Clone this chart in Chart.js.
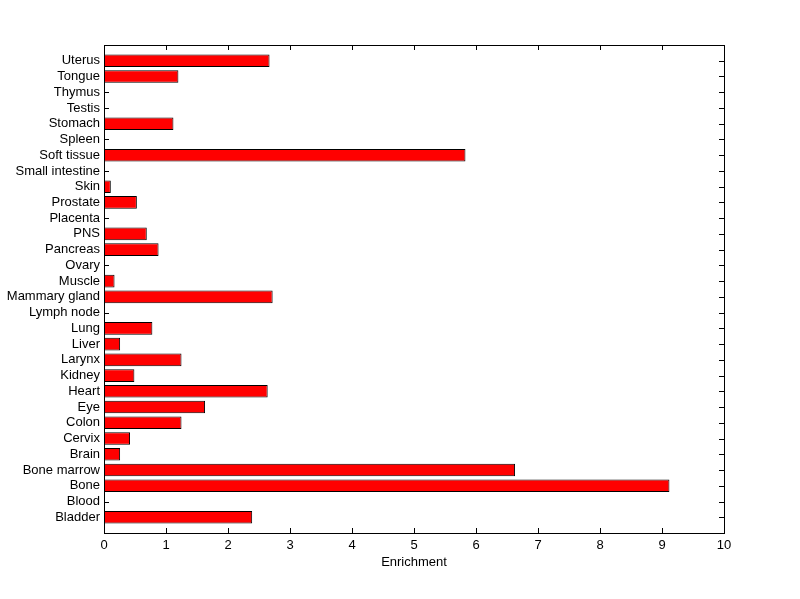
<!DOCTYPE html>
<html>
<head>
<meta charset="utf-8">
<script src="https://cdn.jsdelivr.net/npm/chart.js@4/dist/chart.umd.min.js"></script>
<style>
    body { margin: 0; background: #fff; }
    canvas { display: block; }
</style>
</head>
<body>
<canvas id="chartEnrichment" width="800" height="599"></canvas>
<script>
// tissues, bottom to top
const tissues = ['Bladder', 'Blood', 'Bone', 'Bone marrow', 'Brain', 'Cervix', 'Colon', 'Eye', 'Heart', 'Kidney',
    'Larynx', 'Liver', 'Lung', 'Lymph node', 'Mammary gland', 'Muscle', 'Ovary', 'Pancreas', 'PNS', 'Placenta',
    'Prostate', 'Skin', 'Small intestine', 'Soft tissue', 'Spleen', 'Stomach', 'Testis', 'Thymus', 'Tongue', 'Uterus'];
const enrichment = [2.39, 0, 9.12, 6.63, 0.26, 0.42, 1.25, 1.63, 2.64, 0.49,
    1.25, 0.26, 0.78, 0, 2.72, 0.17, 0, 0.88, 0.69, 0,
    0.53, 0.11, 0, 5.83, 0, 1.12, 0, 0, 1.20, 2.67];
const xTicks = [0, 1, 2, 3, 4, 5, 6, 7, 8, 9, 10];

const font = { family: 'Arial, "Liberation Sans", sans-serif', size: 13 };

// matlab style box with inward ticks
const boxTicks = {
    id: 'boxTicks',
    beforeDatasetsDraw(chart) {
        const ctx = chart.ctx;
        const a = chart.chartArea;
        const xs = chart.scales.x;
        const ys = chart.scales.y;
        const len = 5;
        ctx.save();
        ctx.strokeStyle = '#000';
        ctx.lineWidth = 1;
        ctx.beginPath();
        xTicks.forEach(v => {
            const px = Math.round(xs.getPixelForValue(v)) + 0.5;
            ctx.moveTo(px, a.bottom);
            ctx.lineTo(px, a.bottom - len);
            ctx.moveTo(px, a.top);
            ctx.lineTo(px, a.top + len);
        });
        tissues.forEach((t, i) => {
            const py = Math.round(ys.getPixelForValue(i + 1)) + 0.5;
            ctx.moveTo(a.left, py);
            ctx.lineTo(a.left + len, py);
            ctx.moveTo(a.right, py);
            ctx.lineTo(a.right - len, py);
        });
        ctx.stroke();
        ctx.restore();
    },
    afterDraw(chart) {
        const ctx = chart.ctx;
        const a = chart.chartArea;
        ctx.save();
        ctx.strokeStyle = '#000';
        ctx.lineWidth = 1;
        ctx.strokeRect(Math.round(a.left) + 0.5, Math.round(a.top) + 0.5,
            Math.round(a.right - a.left), Math.round(a.bottom - a.top));
        ctx.restore();
    }
};

const config = {
    type: 'bar',
    data: {
        datasets: [{
            label: 'Enrichment',
            data: enrichment.map((v, i) => ({ x: v, y: i + 1 })),
            backgroundColor: '#ff0000',
            borderColor: '#000000',
            borderWidth: 1,
            borderSkipped: false,
            categoryPercentage: 1.0,
            barPercentage: 0.8
        }]
    },
    options: {
        indexAxis: 'y',
        responsive: false,
        animation: false,
        layout: {
            padding: { left: 0, top: 45, right: 76, bottom: 0 }
        },
        plugins: {
            legend: { display: false },
            tooltip: { enabled: false }
        },
        scales: {
            x: {
                type: 'linear',
                position: 'bottom',
                min: 0,
                max: 10,
                grid: { display: false, drawTicks: false },
                border: { display: false },
                afterFit: s => { s.height = 66; },
                afterBuildTicks: s => { s.ticks = xTicks.map(v => ({ value: v })); },
                ticks: { color: '#000', font: font, padding: 5, maxRotation: 0 },
                title: {
                    display: true,
                    text: 'Enrichment',
                    color: '#000',
                    font: font,
                    padding: { top: 0, bottom: 29 }
                }
            },
            y: {
                type: 'linear',
                position: 'left',
                offset: false,
                min: 0,
                max: 31,
                grid: { display: false, drawTicks: false },
                border: { display: false },
                afterFit: s => { s.width = 104; },
                afterBuildTicks: s => { s.ticks = tissues.map((t, i) => ({ value: i + 1 })); },
                ticks: {
                    color: '#000',
                    font: font,
                    padding: 4,
                    autoSkip: false,
                    callback: v => tissues[v - 1] || ''
                }
            }
        }
    },
    plugins: [boxTicks]
};

new Chart(document.getElementById('chartEnrichment'), config);
</script>
</body>
</html>
